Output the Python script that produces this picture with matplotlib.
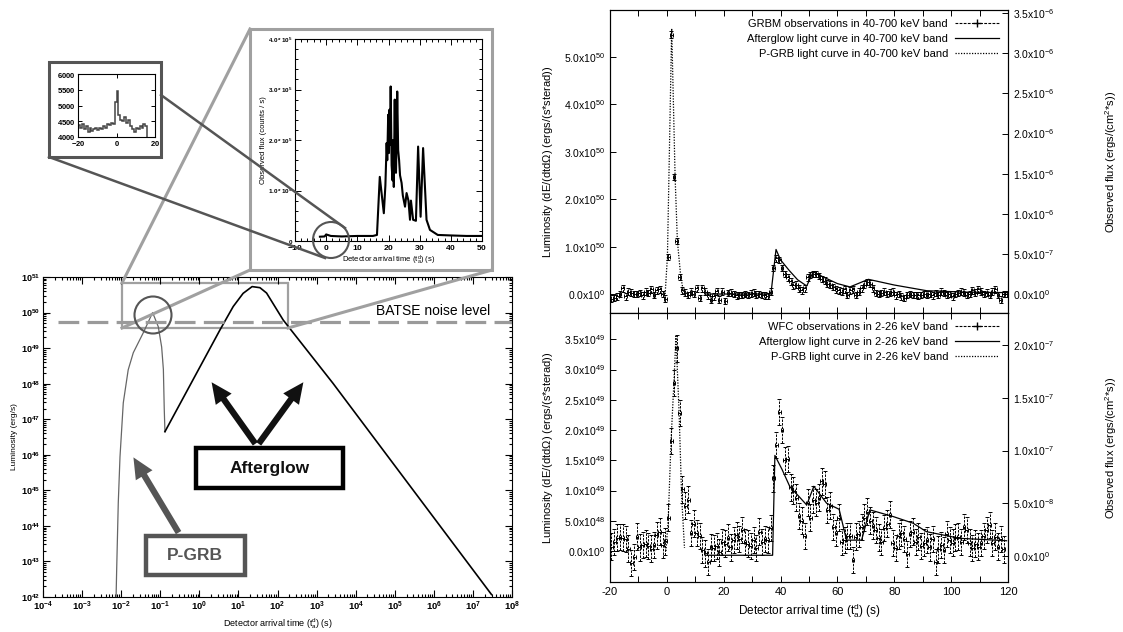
import numpy as np
import matplotlib
matplotlib.use('Agg')
from matplotlib import pyplot as plt
from matplotlib.patches import Rectangle, Ellipse, FancyArrowPatch
from matplotlib.lines import Line2D
from matplotlib.ticker import FuncFormatter, MultipleLocator, LogLocator, NullFormatter

W, H = 1123, 632

# ---- left: luminosity vs arrival time (log10 values) ----
pgrb_logt = [-2.13, -2.115, -2.074, -2.03, -1.946, -1.82, -1.69, -1.435, -1.195,
             -1.05, -0.964, -0.92, -0.898, -0.88]
pgrb_logl = [42.0, 42.77, 44.65, 45.94, 47.46, 48.39, 48.87, 49.43, 50.0,
             49.6, 49.03, 48.4, 47.3, 46.65]
aglow_logt = [-0.88, 0.527, 0.867, 1.12, 1.35, 1.55, 1.72, 2.146, 3.42, 7.475]
aglow_logl = [46.65, 49.51, 50.17, 50.54, 50.73, 50.7, 50.55, 49.79, 48.01, 42.07]
batse_level = 5.5e49

# ---- big inset: BATSE counts (units 1e5 counts/s) ----
ins_t = [-2.0, -0.5, 0.0, 0.5, 1.5, 5, 10, 15, 16.3, 17.2, 18.5, 19.0, 19.4, 19.6,
         19.9, 20.1, 20.3, 20.5, 20.7, 21.0, 21.3, 21.5, 21.7, 22.0, 22.2, 22.4,
         22.6, 22.8, 23.1, 23.4, 23.7, 24.2, 24.6, 25.3, 25.8, 26.4, 26.9, 27.2,
         27.9, 28.8, 29.5, 30.3, 31.1, 32.2, 33.3, 35.8, 40, 45, 50]
ins_flux = [0.085, 0.09, 0.13, 0.12, 0.1, 0.09, 0.1, 0.1, 0.12, 1.27, 0.55, 1.1,
            1.94, 1.6, 2.5, 1.74, 2.6, 1.9, 3.06, 1.5, 1.2, 2.0, 1.07, 2.8, 1.5,
            1.35, 2.0, 2.96, 1.8, 1.6, 1.3, 1.15, 0.9, 0.68, 0.95, 0.8, 0.42, 0.8,
            0.42, 0.4, 1.87, 0.48, 1.84, 0.42, 0.22, 0.12, 0.11, 0.1, 0.1]

# ---- small inset: P-GRB counts histogram (1 s bins from -20) ----
small_counts = [4380, 4300, 4400, 4250, 4350, 4150, 4300, 4200, 4250, 4280, 4220,
                4300, 4250, 4350, 4300, 4420, 4380, 4450, 4400, 5100, 5450, 4700,
                4550, 4500, 4650, 4450, 4550, 4350, 4250, 4150, 4300, 4250, 4350,
                4300, 4400, 4350]

# ---- right top: GRBM 40-700 keV (units 1e50 erg/s/sterad) ----
grbm_lum = [-0.10, -0.08, -0.05, 0.00, 0.12, -0.05, 0.05, 0.03, 0.00, 0.00,
            0.02, -0.03, 0.05, 0.02, 0.10, -0.02, 0.08, 0.10, 0.00, -0.10,
            0.78, 5.47, 2.47, 1.12, 0.36, 0.08, 0.03, -0.02, 0.05, 0.00,
            0.12, -0.08, 0.12, 0.05, -0.03, -0.12, -0.05, 0.06, -0.12, 0.05,
            -0.15, 0.02, 0.03, 0.00, -0.03, -0.02, -0.02, 0.00, -0.02, 0.01,
            0.03, -0.01, 0.00, -0.02, -0.03, -0.04, 0.05, 0.55, 0.75, 0.72,
            0.55, 0.42, 0.35, 0.27, 0.18, 0.20, 0.12, 0.08, 0.12, 0.35,
            0.40, 0.42, 0.42, 0.38, 0.32, 0.28, 0.22, 0.20, 0.15, 0.10,
            0.08, 0.05, 0.10, -0.02, 0.08, 0.10, -0.02, 0.05, 0.12, 0.20,
            0.25, 0.22, 0.12, 0.02, 0.00, 0.02, 0.05, 0.00, 0.03, 0.05,
            -0.03, 0.00, -0.05, -0.08, -0.02, 0.00, -0.02, -0.02, -0.03, -0.02,
            0.00, -0.01, 0.00, -0.03, 0.02, -0.02, 0.05, 0.02, -0.02, 0.00,
            -0.05, 0.00, 0.02, 0.05, 0.03, -0.02, 0.00, 0.08, 0.03, 0.10,
            0.05, 0.00, 0.03, -0.02, 0.05, 0.10, -0.02, -0.12, 0.00, 0.00]
grbm_t = np.arange(len(grbm_lum)) - 19.5
aglow_top_t = [14, 36.6, 38.4, 40.0, 43.0, 46.0, 49.2, 51.5, 55.0, 60.0, 64.4,
               70.9, 80.0, 91.4, 105, 120]
aglow_top_l = [0, 0, 0.94, 0.72, 0.5, 0.3, 0.17, 0.47, 0.36, 0.22, 0.15, 0.31,
               0.19, 0.07, 0.04, 0.03]
pgrb_top_t = [-0.6, 0.2, 1.7, 2.9, 3.7, 4.9, 6.0]
pgrb_top_l = [0, 0.79, 5.6, 2.47, 1.12, 0.36, 0.0]

# ---- right bottom: WFC 2-26 keV (units 1e48) ----
wfc_lum = [0.7, 1.5, 2.2, 2.3, 2.2, 2.0, 0.4, -2.0, -1.0, 2.4,
           0.6, 1.0, 1.2, 0.8, 0.4, 1.0, 2.6, 3.2, 1.0, 1.6,
           5.5, 18.2, 27.8, 33.5, 22.8, 10.2, 7.5, 8.5, 3.0, 4.5,
           3.0, 2.5, 0.2, -0.4, -1.8, 0.6, 0.5, 0.8, -0.2, 1.5,
           1.2, 2.2, 0.6, 1.8, 2.6, 2.0, 3.5, 1.5, 1.2, 0.8,
           1.8, 0.5, 3.2, 1.5, 2.0, 1.8, 3.8, 12.0, 17.5, 23.0,
           20.0, 15.0, 15.2, 10.5, 10.0, 8.8, 5.8, 5.0, 2.5, 8.0,
           5.5, 8.5, 8.0, 8.8, 11.5, 11.0, 6.8, 7.5, 4.0, 3.0,
           5.5, 1.5, 1.8, 2.5, 2.5, -1.5, 2.4, 2.8, 4.0, 5.5,
           6.5, 5.0, 4.2, 3.5, 2.2, 1.5, 3.8, 4.5, 6.0, 1.3,
           0.5, 2.5, 3.0, 2.0, -0.5, 2.8, 3.2, 1.5, 2.4, 0.8,
           1.4, 1.8, 0.6, 2.0, -1.8, 0.3, 1.0, 0.2, 2.8, 1.8,
           1.4, 2.2, 2.4, 1.5, 4.0, 3.5, 1.4, 0.5, 1.2, 0.7,
           1.3, 2.5, 3.5, 4.3, 1.3, 2.4, 0.7, 2.0, 0.3]
wfc_t = np.arange(len(wfc_lum)) - 19.5
aglow_bot_t = [14, 37.2, 38.0, 40.5, 43.3, 46.5, 49.2, 51.7, 56.2, 60.6, 63.2,
               68.5, 71.4, 79.6, 86.6, 91.3, 103, 119.5]
aglow_bot_l = [-0.7, -0.7, 15.8, 13.5, 10.6, 9.0, 7.6, 10.7, 7.9, 6.9, 1.8,
               1.8, 6.8, 5.7, 4.6, 3.2, 2.1, 1.7]
pgrb_bot_t = [-0.3, 0.5, 1.5, 2.5, 3.2, 4.3, 5.2, 6.2]
pgrb_bot_l = [0.0, 5.5, 18.5, 28.0, 35.5, 23.0, 9.0, 0.5]


def box(x0, y0, x1, y1):
    return [x0 / W, 1 - y1 / H, (x1 - x0) / W, (y1 - y0) / H]


def fp(x, y):
    return (x / W, 1 - y / H)


plt.rcParams['font.family'] = ['Liberation Sans', 'DejaVu Sans']
plt.rcParams['mathtext.fontset'] = 'custom'
plt.rcParams['mathtext.rm'] = 'Liberation Sans'
plt.rcParams['mathtext.it'] = 'Liberation Sans:italic'
plt.rcParams['mathtext.bf'] = 'Liberation Sans:bold'
plt.rcParams['mathtext.default'] = 'regular'
plt.rcParams['axes.unicode_minus'] = False

fig = plt.figure(figsize=(W / 100, H / 100), dpi=100)

LG = '#a0a0a0'
DG = '#555555'

# ================= left main panel =================
ax = fig.add_axes(box(43, 277, 512, 597))
ax.set_xscale('log')
ax.set_yscale('log')
ax.plot(10 ** np.array(pgrb_logt), 10 ** np.array(pgrb_logl), color='#666666', lw=0.9)
ax.plot(10 ** np.array(aglow_logt), 10 ** np.array(aglow_logl), color='black', lw=1.2)
ax.hlines(batse_level, 2.4e-4, 1e8, color='#9a9a9a', lw=2.3, linestyles=(0, (6.5, 2.6)))
ax.add_patch(Rectangle((0.0105, 3.7e49), 186 - 0.0105, 6.8e50 - 3.7e49,
                       fill=False, ec=LG, lw=1.6))
ax.set_xlim(1e-4, 1e8)
ax.set_ylim(1e42, 1e51)
ax.set_xticks([10.0 ** k for k in range(-4, 9)])
ax.set_xticklabels([r'$\mathbf{10^{%d}}$' % k for k in range(-4, 9)], fontsize=6.8)
ax.set_yticks([10.0 ** k for k in range(42, 52)])
ax.set_yticklabels([r'$\mathbf{10^{%d}}$' % k for k in range(42, 52)], fontsize=6.5)
for a in (ax.xaxis, ax.yaxis):
    a.set_minor_locator(LogLocator(base=10, subs=range(2, 10), numticks=100))
    a.set_minor_formatter(NullFormatter())
ax.tick_params(which='both', direction='in', top=True, right=True, width=0.8)
ax.tick_params(which='major', length=5, pad=2)
ax.tick_params(which='minor', length=2.5)
ax.set_ylabel('Luminosity (erg/s)', fontsize=6, labelpad=2)
ax.set_xlabel('Detector arrival time (t$_a^d$) (s)', fontsize=6.5, labelpad=2)
fig.text(*fp(490, 311), 'BATSE noise level', ha='right', va='center', fontsize=10)

# ================= big inset =================
axb = fig.add_axes(box(295, 39, 482, 241))
axb.plot(ins_t, np.array(ins_flux) * 1e5, color='black', lw=1.5)
axb.set_xlim(-10, 50)
axb.set_ylim(0, 4e5)
axb.set_xticks(range(-10, 51, 10))
axb.set_xticklabels([r'$\mathbf{%d}$' % v for v in range(-10, 51, 10)], fontsize=6)
axb.set_yticks([0, 1e5, 2e5, 3e5, 4e5])
axb.set_yticklabels([r'$\mathbf{0}$'] + [r'$\mathbf{%d.0*10^5}$' % v for v in (1, 2, 3, 4)],
                    fontsize=4.5)
axb.xaxis.set_minor_locator(MultipleLocator(2))
axb.yaxis.set_minor_locator(MultipleLocator(2e4))
axb.tick_params(which='both', direction='in', top=True, right=True, width=0.7, pad=1.5)
axb.tick_params(which='major', length=4)
axb.tick_params(which='minor', length=2)
axb.set_ylabel('Observed flux (counts / s)', fontsize=5.5, labelpad=1)
axb.set_xlabel('Detector arrival time (t$_a^d$) (s)', fontsize=5.5, labelpad=1)

# ================= small inset =================
axs = fig.add_axes(box(78, 74, 155, 137))
edges = np.arange(len(small_counts) + 1) - 20
axs.stairs(small_counts, edges, color='#444444', lw=1.1)
axs.set_xlim(-20, 20)
axs.set_ylim(4000, 6000)
axs.set_xticks([-20, 0, 20])
axs.set_xticklabels([r'$\mathbf{-20}$', r'$\mathbf{0}$', r'$\mathbf{20}$'], fontsize=5.5)
axs.set_yticks([4000, 4500, 5000, 5500, 6000])
axs.set_yticklabels([r'$\mathbf{%d}$' % v for v in (4000, 4500, 5000, 5500, 6000)],
                    fontsize=5.5)
axs.tick_params(direction='in', top=True, right=True, length=3, width=0.7, pad=1.5)

# ================= frames, zoom lines, circles =================
fig.add_artist(Rectangle(fp(250, 270), 242 / W, 241 / H, transform=fig.transFigure,
                         fill=False, ec=LG, lw=2.2, zorder=3))
for (xa, ya), (xb, yb) in [((122, 283), (250, 29)), ((122, 328), (250, 270)),
                           ((288, 328), (492, 270))]:
    fig.add_artist(Line2D([xa / W, xb / W], [1 - ya / H, 1 - yb / H],
                          transform=fig.transFigure, color=LG, lw=2.2, zorder=3))
fig.add_artist(Rectangle(fp(49, 157), 112 / W, 95 / H, transform=fig.transFigure,
                         fill=False, ec=DG, lw=2.2, zorder=3))
for (xa, ya), (xb, yb) in [((161, 95), (345, 228)), ((49, 157), (325, 258))]:
    fig.add_artist(Line2D([xa / W, xb / W], [1 - ya / H, 1 - yb / H],
                          transform=fig.transFigure, color=DG, lw=1.8, zorder=4))
fig.add_artist(Ellipse(fp(153, 315), 37 / W, 37 / H, transform=fig.transFigure,
                       fill=False, ec=DG, lw=1.5, zorder=4))
fig.add_artist(Ellipse(fp(331, 240), 36 / W, 36 / H, transform=fig.transFigure,
                       fill=False, ec=DG, lw=1.5, zorder=4))

# ================= annotation boxes and arrows =================
fig.add_artist(Rectangle(fp(196, 488), 147 / W, 40 / H, transform=fig.transFigure,
                         fc='white', ec='black', lw=3.2, zorder=5))
fig.text(*fp(270, 469), 'Afterglow', ha='center', va='center', fontsize=12.5,
         fontweight='bold', color='#111111', zorder=6)
fig.add_artist(Rectangle(fp(146, 575), 99 / W, 39 / H, transform=fig.transFigure,
                         fc='white', ec=DG, lw=3.2, zorder=5))
fig.text(*fp(195, 556), 'P-GRB', ha='center', va='center', fontsize=12.5,
         fontweight='bold', color=DG, zorder=6)
arrow_style = 'simple,head_length=1.5,head_width=1.4,tail_width=0.45'
for tail, tip, col in [((257, 446), (210, 380), '#111111'),
                       ((257, 446), (305, 380), '#111111'),
                       ((180, 535), (132, 455), DG)]:
    fig.add_artist(FancyArrowPatch(fp(*tail), fp(*tip), transform=fig.transFigure,
                                   arrowstyle=arrow_style, mutation_scale=10,
                                   color=col, lw=0, zorder=5))


# ================= right panels =================
def sci(v, pos=None):
    if v == 0:
        return r'0.0x10$^{0}$'
    e = int(np.floor(np.log10(abs(v)) + 1e-9))
    m = v / 10 ** e
    return r'%.1fx10$^{%d}$' % (m, e)


def obs_errorbars(a, t, y, yerr):
    eb = a.errorbar(t, y, xerr=0.5, yerr=yerr, fmt='none', ecolor='black',
                    elinewidth=0.7, capsize=1.3, capthick=0.7)
    for lc in eb[2]:
        lc.set_linestyle((0, (2.5, 1.2)))


axt = fig.add_axes(box(610, 10, 1008, 313))
obs_errorbars(axt, grbm_t, np.array(grbm_lum) * 1e50, 0.07e50)
axt.plot(aglow_top_t, np.array(aglow_top_l) * 1e50, color='black', lw=0.9)
axt.plot(pgrb_top_t, np.array(pgrb_top_l) * 1e50, color='black', lw=0.9, ls=(0, (1, 1.2)))
axt.set_xlim(-20, 120)
axt.set_ylim(-0.40e50, 5.99e50)
axt.set_yticks(np.arange(0, 5.01, 1) * 1e50)
axt.yaxis.set_major_formatter(FuncFormatter(sci))
axt.set_ylabel('Luminosity (dE/(dtd$\\Omega$) (ergs/(s*sterad))', fontsize=8)
axt.set_xticks(range(-20, 121, 10))
axt.set_xticklabels([])
axt2 = axt.twinx()
axt2.set_ylim(-0.237e-6, 3.54e-6)
axt2.set_yticks(np.arange(0, 3.51, 0.5) * 1e-6)
axt2.yaxis.set_major_formatter(FuncFormatter(sci))
axt2.set_ylabel('Observed flux (ergs/(cm$^2$*s))', fontsize=8)

axm = fig.add_axes(box(610, 313, 1008, 582))
obs_errorbars(axm, wfc_t, np.array(wfc_lum) * 1e48, 2.2e48)
axm.plot(aglow_bot_t, np.array(aglow_bot_l) * 1e48, color='black', lw=0.9)
axm.plot(pgrb_bot_t, np.array(pgrb_bot_l) * 1e48, color='black', lw=0.9, ls=(0, (1, 1.2)))
axm.set_xlim(-20, 120)
axm.set_ylim(-0.512e49, 3.934e49)
axm.set_yticks(np.arange(0, 3.51, 0.5) * 1e49)
axm.yaxis.set_major_formatter(FuncFormatter(sci))
axm.set_ylabel('Luminosity (dE/(dtd$\\Omega$) (ergs/(s*sterad))', fontsize=8)
axm.set_xticks(range(-20, 121, 10))
axm.set_xticklabels([str(v) if v % 20 == 0 else '' for v in range(-20, 121, 10)])
axm.set_xlabel('Detector arrival time (t$_a^d$) (s)', fontsize=8.5, labelpad=3)
axm2 = axm.twinx()
axm2.set_ylim(-0.246e-7, 2.303e-7)
axm2.set_yticks(np.arange(0, 2.01, 0.5) * 1e-7)
axm2.yaxis.set_major_formatter(FuncFormatter(sci))
axm2.set_ylabel('Observed flux (ergs/(cm$^2$*s))', fontsize=8)

for a in (axt, axm):
    a.tick_params(axis='x', direction='in', top=True, length=4, width=0.7, labelsize=8)
    a.tick_params(axis='y', direction='in', length=4, width=0.7, labelsize=7.5)
    a.yaxis.set_label_coords(-0.138, 0.5)
for a in (axt2, axm2):
    a.tick_params(axis='y', direction='in', length=4, width=0.7, labelsize=7.5)
    a.yaxis.set_label_coords(1.24, 0.5)

for a, band, inst in [(axt, '40-700 keV', 'GRBM'), (axm, '2-26 keV', 'WFC')]:
    handles = [Line2D([], [], color='black', lw=0.8, ls=(0, (2.5, 1.2)), marker='+', ms=6),
               Line2D([], [], color='black', lw=0.9),
               Line2D([], [], color='black', lw=0.9, ls=(0, (1, 1.2)))]
    labels = ['%s observations in %s band' % (inst, band),
              'Afterglow light curve in %s band' % band,
              'P-GRB light curve in %s band' % band]
    a.legend(handles, labels, loc='upper right', frameon=False, markerfirst=False,
             fontsize=8, handlelength=4, handletextpad=0.6, labelspacing=0.45,
             borderaxespad=0.4)

fig.savefig('out.png', dpi=100)
